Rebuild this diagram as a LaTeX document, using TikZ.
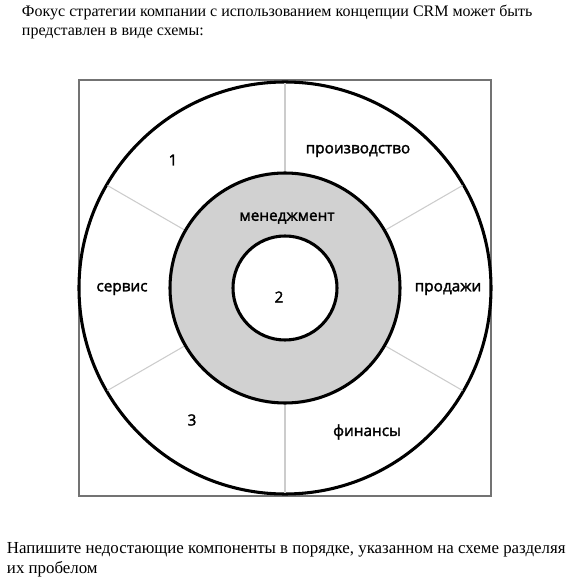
\documentclass[tikz,border=0pt]{standalone}
\usepackage{fontspec}
\setmainfont{Liberation Serif}
\newfontfamily\segfont{Open Sans}[FakeBold=2]
\usetikzlibrary{positioning}
\begin{document}
\begin{tikzpicture}[
    x=0.75pt, y=0.75pt,
    every node/.style={inner sep=0pt, outer sep=0pt},
    seg/.style={font=\segfont\fontsize{11.5}{13}\selectfont},
    ring/.style={draw=black, line width=2.3pt},
    divider/.style={draw=black!20, line width=0.8pt},
    para/.style={anchor=north west, align=left,
        font=\fontsize{12}{14.3}\selectfont}
]
\useasboundingbox (-285,-293) rectangle (286,288);
\node[para] (head) at (-263,283)
    {Фокус стратегии компании с использованием концепции CRM может быть\\
     представлен в виде схемы:};
\draw[black!55, line width=0.8pt] (-206,-208) rectangle (206,208);
\draw[ring] (0,0) circle (206);
\foreach \a in {90,30,-30,-90,-150,150}
    \draw[divider] (\a:115) -- (\a:205);
\draw[ring, fill=black!18] (0,0) circle (115);
\draw[ring, fill=white] (0,0) circle (52);
% segments of the outer ring
\node[seg] (prod) at (73,137) {производство};
\node[seg] (sales) at (163,-1) {продажи};
\node[seg] (fin) at (82,-144) {финансы};
\node[seg] (three) at (-93,-132) {3};
\node[seg] (serv) at (-163,-1) {сервис};
\node[seg] (one) at (-112,128) {1};
% inner rings
\node[seg] (mgmt) at (2,70) {менеджмент};
\node[seg] (two) at (-6,-9) {2};
\node[para, font=\fontsize{12.65}{15}\selectfont] (task) at (-278,-254)
    {Напишите недостающие компоненты в порядке, указанном на схеме разделяя\\
     их пробелом};
\end{tikzpicture}
\end{document}
